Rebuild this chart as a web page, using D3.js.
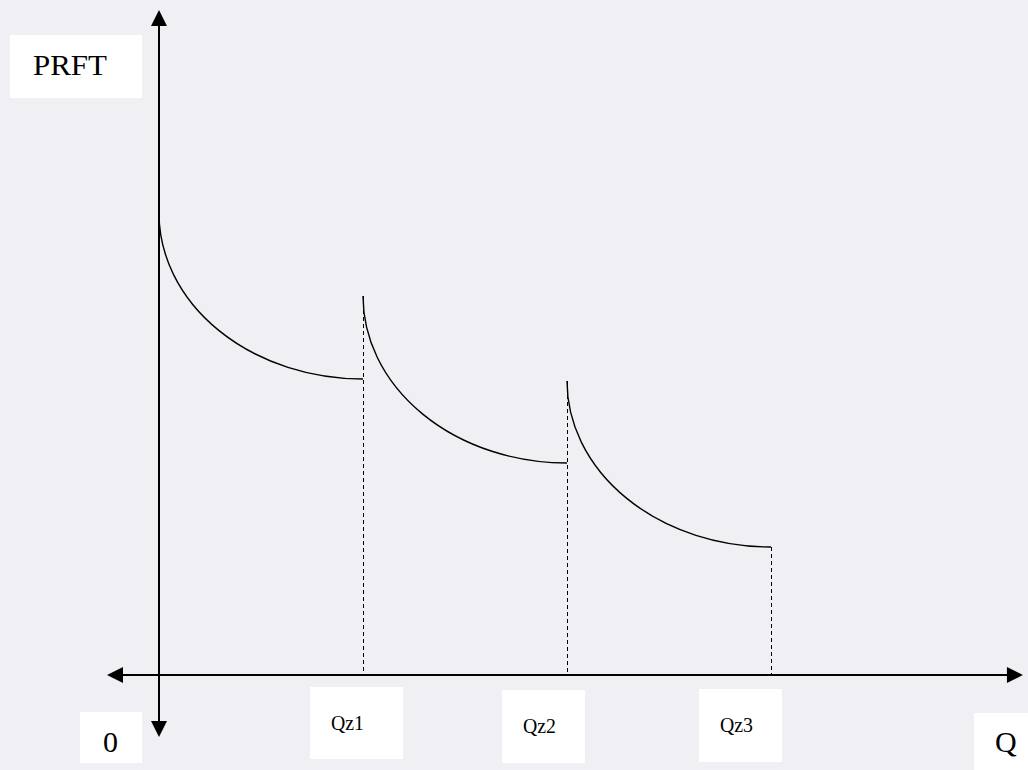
<!DOCTYPE html>
<html>
<head>
<meta charset="utf-8">
<script src="https://cdn.jsdelivr.net/npm/d3@7"></script>
<style>
  html, body { margin: 0; padding: 0; background: #efeff4; }
  svg { display: block; }
  text { font-family: "Liberation Serif", "Times New Roman", serif; fill: #000; }
</style>
</head>
<body>
<svg id="chart" width="1028" height="770"></svg>
<script>
// ---- data ----
// each cost segment is a quarter-ellipse arc from its start point to its end point
const segmentStartQ = [0, 1, 2];
const segmentStartP = [46.2, 37.9, 29.4];
const segmentEndQ = [1, 2, 3];
const segmentEndP = [29.6, 21.2, 12.8];
const tickQ = [1, 2, 3];
const tickLabels = ["Qz1", "Qz2", "Qz3"];
// dashed drop lines: from this value down to 0 at each tick
const dropTop = [37.9, 29.4, 12.8];
const xAxisExtent = [-0.255, 4.235];
const yAxisExtent = [-6.2, 66.5];
const yAxisLabel = "PRFT";
const xAxisLabel = "Q";
const originLabel = "0";

// ---- layout ----
const svg = d3.select("#chart");
const x = d3.scaleLinear().domain([0, 3]).range([159, 771]);
const y = d3.scaleLinear().domain([0, 66.5]).range([675, 10]);
const ink = "#000";

const xa0 = x(xAxisExtent[0]), xa1 = x(xAxisExtent[1]), ya = y(0);
const yb = y(yAxisExtent[0]), yt = y(yAxisExtent[1]), xo = x(0);
const headLen = 16, headHalf = 8;

// dashed drop lines
svg.selectAll("line.drop").data(tickQ).join("line")
  .attr("class", "drop")
  .attr("x1", d => Math.round(x(d)) + 0.5).attr("x2", d => Math.round(x(d)) + 0.5)
  .attr("y1", (d, i) => y(dropTop[i])).attr("y2", ya)
  .attr("stroke", ink).attr("stroke-width", 1)
  .attr("stroke-dasharray", "4,3");

// curves (elliptical arcs through the scales)
const segments = segmentStartQ.map((q, i) => ({
  x0: x(q), y0: y(segmentStartP[i]), x1: x(segmentEndQ[i]), y1: y(segmentEndP[i])
}));
svg.selectAll("path.seg").data(segments).join("path")
  .attr("class", "seg")
  .attr("d", d => {
    const p = d3.path();
    p.moveTo(d.x0, d.y0);
    return p.toString() + ` A ${d.x1 - d.x0} ${d.y1 - d.y0} 0 0 0 ${d.x1} ${d.y1}`;
  })
  .attr("fill", "none").attr("stroke", ink).attr("stroke-width", 1.4);

// axis lines
svg.append("line").attr("x1", xa0 + headLen - 2).attr("x2", xa1 - headLen + 2)
  .attr("y1", ya).attr("y2", ya).attr("stroke", ink).attr("stroke-width", 2);
svg.append("line").attr("x1", xo).attr("x2", xo)
  .attr("y1", yt + headLen - 2).attr("y2", yb - headLen + 2).attr("stroke", ink).attr("stroke-width", 2);

// arrowheads
const heads = [
  [[xa0, ya], [xa0 + headLen, ya - headHalf], [xa0 + headLen, ya + headHalf]],
  [[xa1, ya], [xa1 - headLen, ya - headHalf], [xa1 - headLen, ya + headHalf]],
  [[xo, yt], [xo - headHalf, yt + headLen], [xo + headHalf, yt + headLen]],
  [[xo, yb], [xo - headHalf, yb - headLen], [xo + headHalf, yb - headLen]]
];
svg.selectAll("path.head").data(heads).join("path")
  .attr("class", "head")
  .attr("d", d => "M" + d.map(p => p.join(",")).join("L") + "Z")
  .attr("fill", ink);

// label boxes
function labelBox(bx, by, bw, bh, txt, tx, ty, fs, tl) {
  svg.append("rect").attr("x", bx).attr("y", by).attr("width", bw).attr("height", bh).attr("fill", "#fff");
  const t = svg.append("text").attr("x", tx).attr("y", ty).attr("font-size", fs).text(txt);
  if (tl) t.attr("textLength", tl).attr("lengthAdjust", "spacingAndGlyphs");
}
labelBox(10, 35, 132, 63, yAxisLabel, 33, 75, 30, 74);
labelBox(80, 712, 62, 51, originLabel, 103, 752, 30);
labelBox(974, 713, 60, 60, xAxisLabel, 995, 752, 30);

const tickBoxes = [
  {bx: 310, by: 687, bw: 93, bh: 72, tx: 331, ty: 730},
  {bx: 502, by: 690, bw: 83, bh: 73, tx: 523, ty: 733},
  {bx: 699, by: 689, bw: 83, bh: 73, tx: 720, ty: 732}
];
tickLabels.forEach((lab, i) => {
  const b = tickBoxes[i];
  labelBox(b.bx, b.by, b.bw, b.bh, lab, b.tx, b.ty, 20, 33);
});
</script>
</body>
</html>
